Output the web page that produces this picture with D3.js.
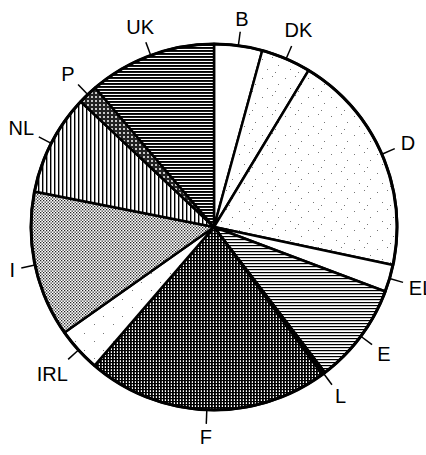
<!DOCTYPE html>
<html lang="en">
	<head>
		<meta charset="utf-8">
		<title>pie</title>
		<script src="https://d3js.org/d3.v7.min.js"></script>
		<style type="text/css">
		body { margin: 0; background: white; }
		text {
				font-family: "Liberation Sans", Arial, sans-serif;
				font-size: 20px;
				fill: black;
		}
		</style>
	</head>
	<body>
		<script type="text/javascript">

		// Data (share in %)
		var countries = ["B", "DK", "D", "EL", "E", "L", "F", "IRL", "I", "NL", "P", "UK"];
		var shares = [4.25, 4.4, 19.7, 2.4, 8.9, 0.3, 21.4, 3.9, 12.9, 8.9, 1.75, 11.25];
		var fills = ["white", "url(#dots)", "url(#dots)", "white", "url(#hlight)", "black",
			"url(#grid)", "url(#dotsSparse)", "url(#checker)", "url(#vlines)", "url(#bubbles)", "url(#hdark)"];

		var w = 426;
		var h = 455;
		var cx = 214, cy = 227;
		var r = 183;

		var svg = d3.select("body")
			.append("svg")
			.attr("width", w)
			.attr("height", h);

		// hatch patterns
		var defs = svg.append("defs");

		var p = defs.append("pattern").attr("id", "hdark").attr("patternUnits", "userSpaceOnUse")
			.attr("width", 6).attr("height", 3);
		p.append("rect").attr("width", 6).attr("height", 3).attr("fill", "white");
		p.append("rect").attr("y", 0).attr("width", 6).attr("height", 1.9).attr("fill", "black");

		p = defs.append("pattern").attr("id", "hlight").attr("patternUnits", "userSpaceOnUse")
			.attr("width", 6).attr("height", 3);
		p.append("rect").attr("width", 6).attr("height", 3).attr("fill", "white");
		p.append("rect").attr("y", 0).attr("width", 6).attr("height", 1.2).attr("fill", "black");

		p = defs.append("pattern").attr("id", "vlines").attr("patternUnits", "userSpaceOnUse")
			.attr("width", 4).attr("height", 4);
		p.append("rect").attr("width", 4).attr("height", 4).attr("fill", "white");
		p.append("rect").attr("x", 0).attr("width", 1.4).attr("height", 4).attr("fill", "black");

		p = defs.append("pattern").attr("id", "grid").attr("patternUnits", "userSpaceOnUse")
			.attr("width", 3).attr("height", 3);
		p.append("rect").attr("width", 3).attr("height", 3).attr("fill", "white");
		p.append("rect").attr("x", 0).attr("width", 1.8).attr("height", 3).attr("fill", "black");
		p.append("rect").attr("y", 0).attr("width", 3).attr("height", 1.2).attr("fill", "black");

		p = defs.append("pattern").attr("id", "checker").attr("patternUnits", "userSpaceOnUse")
			.attr("width", 3).attr("height", 3);
		p.append("rect").attr("width", 3).attr("height", 3).attr("fill", "white");
		p.append("rect").attr("x", 0).attr("y", 0).attr("width", 1.3).attr("height", 1.3).attr("fill", "#222");
		p.append("rect").attr("x", 1.5).attr("y", 1.5).attr("width", 1.3).attr("height", 1.3).attr("fill", "#222");

		p = defs.append("pattern").attr("id", "bubbles").attr("patternUnits", "userSpaceOnUse")
			.attr("width", 4).attr("height", 4);
		p.append("rect").attr("width", 4).attr("height", 4).attr("fill", "#222");
		p.append("circle").attr("cx", 2).attr("cy", 2).attr("r", 1).attr("fill", "white");

		p = defs.append("pattern").attr("id", "dots").attr("patternUnits", "userSpaceOnUse")
			.attr("width", 23).attr("height", 19);
		p.append("rect").attr("width", 23).attr("height", 19).attr("fill", "white");
		[[2, 3], [12, 1], [18, 9], [7, 13], [15, 16]].forEach(function(d) {
			p.append("rect").attr("x", d[0]).attr("y", d[1]).attr("width", 1).attr("height", 1).attr("fill", "#777");
		});

		p = defs.append("pattern").attr("id", "dotsSparse").attr("patternUnits", "userSpaceOnUse")
			.attr("width", 19).attr("height", 17);
		p.append("rect").attr("width", 19).attr("height", 17).attr("fill", "white");
		[[3, 4], [13, 12]].forEach(function(d) {
			p.append("rect").attr("x", d[0]).attr("y", d[1]).attr("width", 1).attr("height", 1).attr("fill", "#777");
		});

		var pie = d3.pie().sort(null).value(function(d) { return d; });
		var arc = d3.arc().innerRadius(0).outerRadius(r);

		var g = svg.append("g").attr("transform", "translate(" + cx + "," + cy + ")");

		var arcs = g.selectAll("g.arc")
			.data(pie(shares))
			.enter()
			.append("g")
			.attr("class", "arc");

		arcs.append("path")
			.attr("d", arc)
			.attr("fill", function(d, i) { return fills[i]; })
			.attr("stroke", "black")
			.attr("stroke-width", 2.5)
			.attr("stroke-linejoin", "round");

		// outer rim
		g.append("circle").attr("r", r).attr("fill", "none")
			.attr("stroke", "black").attr("stroke-width", 3);

		// leader lines and labels
		arcs.each(function(d, i) {
			var a = (d.startAngle + d.endAngle) / 2;
			var sx = Math.sin(a), sy = -Math.cos(a);
			var el = d3.select(this);
			el.append("line")
				.attr("x1", sx * r).attr("y1", sy * r)
				.attr("x2", sx * (r + 14)).attr("y2", sy * (r + 14))
				.attr("stroke", "black").attr("stroke-width", 1.5);
			var t = el.append("text").attr("text-anchor", "middle").text(countries[i]);
			var tw = t.node().getComputedTextLength();
			var capH = 14.5;
			var off = r + 14 + 5 + (tw / 2) * Math.abs(sx) + (capH / 2) * Math.abs(sy);
			t.attr("x", sx * off).attr("y", sy * off + capH / 2);
		});

		</script>
	</body>
</html>
